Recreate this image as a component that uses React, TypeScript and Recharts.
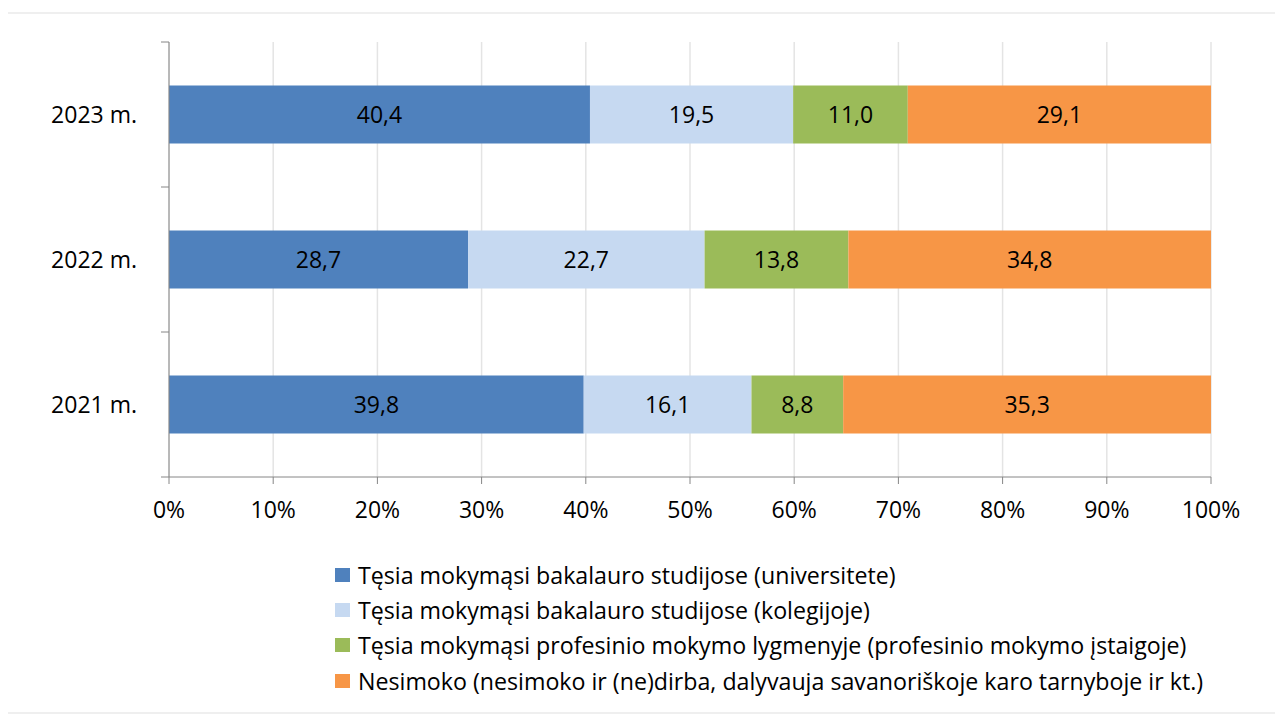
import { Bar, BarChart, CartesianGrid, LabelList, Legend, XAxis, YAxis } from "recharts";

const years = ["2023 m.", "2022 m.", "2021 m."];
const universitete = [40.4, 28.7, 39.8];
const kolegijoje = [19.5, 22.7, 16.1];
const profesinis = [11.0, 13.8, 8.8];
const nesimoko = [29.1, 34.8, 35.3];
const xTicks = [0, 10, 20, 30, 40, 50, 60, 70, 80, 90, 100];

const series = [
  { key: "uni", name: "Tęsia mokymąsi bakalauro studijose (universitete)", color: "#4F81BD", values: universitete },
  { key: "kol", name: "Tęsia mokymąsi bakalauro studijose (kolegijoje)", color: "#C6D9F1", values: kolegijoje },
  { key: "prof", name: "Tęsia mokymąsi profesinio mokymo lygmenyje (profesinio mokymo įstaigoje)", color: "#9BBB59", values: profesinis },
  { key: "nes", name: "Nesimoko (nesimoko ir (ne)dirba, dalyvauja savanoriškoje karo tarnyboje ir kt.)", color: "#F79646", values: nesimoko },
];

const data = years.map((year, i) => {
  const row: any = { year };
  series.forEach((s) => (row[s.key] = s.values[i]));
  return row;
});

const FONT = "'Open Sans', sans-serif";
const axisColor = "#868686";
const fmt = (v: any) => Number(v).toFixed(1).replace(".", ",");

// chart frame
const W = 1267;
const H = 706;
const M = { top: 34, right: 64, bottom: 197, left: 0 };
const X_AXIS_H = 40;
const Y_AXIS_W = 161;
const band = (H - M.top - M.bottom - X_AXIS_H) / years.length;

// category label plus the small tick marks that sit on the band edges
function YearTick(props: any) {
  const { x, y, payload, index } = props;
  const axisX = M.left + Y_AXIS_W;
  return (
    <g>
      <line x1={axisX - 8} x2={axisX} y1={y - band / 2} y2={y - band / 2} stroke={axisColor} />
      {index === years.length - 1 && (
        <line x1={axisX - 8} x2={axisX} y1={y + band / 2} y2={y + band / 2} stroke={axisColor} />
      )}
      <text x={x} y={y} dy="0.35em" textAnchor="end" fill="#000" fontSize={23}>
        {payload.value}
      </text>
    </g>
  );
}

function LegendBox() {
  return (
    <div style={{ fontFamily: FONT, fontSize: 23.2, color: "#000" }}>
      {series.map((s) => (
        <div key={s.key} style={{ display: "flex", alignItems: "center", height: 35.3, whiteSpace: "nowrap" }}>
          <span style={{ width: 15, height: 14, background: s.color, marginRight: 8, display: "inline-block" }} />
          {s.name}
        </div>
      ))}
    </div>
  );
}

export default function App() {
  return (
    <div style={{ position: "relative" }}>
      <div
        style={{
          position: "absolute",
          left: -2,
          top: 4,
          width: 1290,
          height: 702,
          border: "2px solid #efefef",
          boxSizing: "border-box",
        }}
      />
      <BarChart
        width={W}
        height={H}
        data={data}
        layout="vertical"
        margin={M}
        barCategoryGap="30%"
        style={{ fontFamily: FONT }}
      >
        <CartesianGrid horizontal={false} stroke="#e4e4e4" strokeWidth={1.5} />
        <XAxis
          type="number"
          domain={[0, 100]}
          ticks={xTicks}
          tickFormatter={(v) => `${v}%`}
          stroke={axisColor}
          height={X_AXIS_H}
          tickSize={7}
          tickMargin={18}
          tick={{ fill: "#000", fontSize: 23 }}
          interval={0}
        />
        <YAxis
          type="category"
          dataKey="year"
          width={Y_AXIS_W}
          stroke={axisColor}
          tickLine={false}
          tickSize={0}
          tickMargin={32}
          tick={<YearTick />}
          interval={0}
        />
        {series.map((s) => (
          <Bar key={s.key} dataKey={s.key} name={s.name} stackId="a" fill={s.color} isAnimationActive={false}>
            <LabelList dataKey={s.key} position="center" formatter={fmt} fill="#000" fontSize={23} />
          </Bar>
        ))}
        <Legend
          layout="vertical"
          align="center"
          verticalAlign="middle"
          content={() => <LegendBox />}
          wrapperStyle={{ left: 327, top: 549, width: "auto" }}
        />
      </BarChart>
    </div>
  );
}
